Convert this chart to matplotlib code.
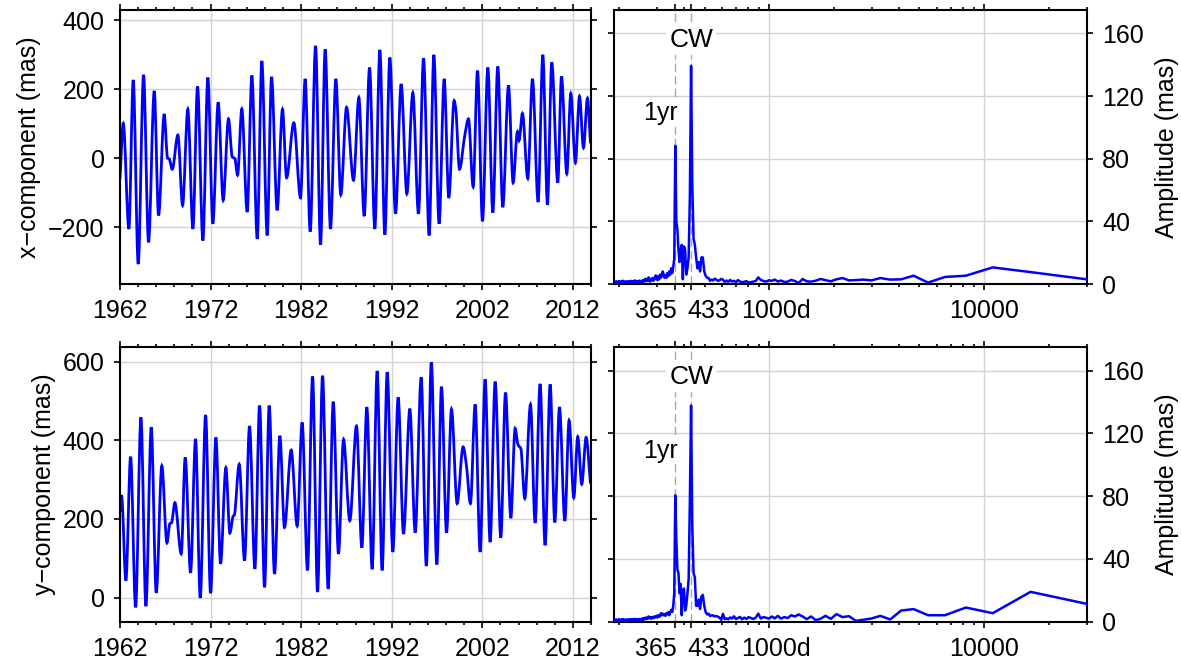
import numpy as np
import matplotlib
matplotlib.use('Agg')
import matplotlib.pyplot as plt
import matplotlib.transforms as mtransforms
from matplotlib.path import Path
from matplotlib.patches import PathPatch
from matplotlib.ticker import MultipleLocator, LogLocator, NullFormatter

plt.rcParams['font.family'] = ['Liberation Sans', 'DejaVu Sans']
plt.rcParams['font.size'] = 18
plt.rcParams['axes.linewidth'] = 1.5

######## polar motion, x component (turning points) ########
x_years = [1962.00, 1962.36, 1962.98, 1963.46, 1964.01, 1964.60, 1965.15, 1965.78, 1966.26, 1966.88,
           1967.25, 1967.43, 1967.77, 1968.39, 1968.91, 1969.49, 1970.05, 1970.56, 1971.15, 1971.70,
           1972.25, 1972.84, 1973.39, 1973.98, 1974.39, 1974.68, 1974.98, 1975.45, 1976.04, 1976.56,
           1977.15, 1977.66, 1978.25, 1978.73, 1979.35, 1979.94, 1980.39, 1981.19, 1981.93, 1982.44,
           1983.00, 1983.59, 1984.14, 1984.65, 1985.24, 1985.83, 1986.38, 1987.01, 1987.78, 1988.37,
           1988.96, 1989.55, 1990.13, 1990.69, 1991.24, 1991.79, 1992.42, 1993.04, 1993.67, 1994.33,
           1994.95, 1995.51, 1996.13, 1996.65, 1997.23, 1997.79, 1998.30, 1998.89, 1999.07, 1999.48,
           2000.07, 2000.47, 2000.99, 2001.47, 2002.02, 2002.61, 2003.16, 2003.71, 2004.26, 2004.89,
           2005.40, 2005.88, 2006.06, 2006.43, 2007.02, 2007.54, 2008.16, 2008.68, 2009.19, 2009.67,
           2010.33, 2010.74, 2011.33, 2011.77, 2012.28, 2012.73, 2013.17, 2013.61, 2013.94]
x_mas = [-59, 101, -205, 227, -307, 242, -244, 195, -166, 128,
         0, -2, -32, 67, -137, 142, -205, 208, -239, 234,
         -190, 162, -122, 114, 4, -1, -49, 143, -156, 240,
         -234, 282, -224, 236, -151, 142, -57, 103, -115, 230,
         -213, 326, -251, 316, -205, 230, -106, 148, -64, 176,
         -168, 263, -205, 314, -222, 292, -161, 215, -103, 190,
         -161, 290, -224, 300, -190, 230, -115, 167, 143, -32,
         67, 114, -83, 254, -183, 263, -158, 266, -142, 211,
         -71, 77, 52, 130, -59, 230, -127, 300, -135, 278,
         -71, 237, -45, 188, -13, 180, 30, 174, 43]

######## polar motion, y component ########
y_years = [1962.00, 1962.17, 1962.65, 1963.17, 1963.72, 1964.31, 1964.86, 1965.45, 1966.00, 1966.62,
           1967.18, 1967.51, 1967.69, 1968.06, 1968.76, 1969.20, 1969.79, 1970.34, 1970.86, 1971.45,
           1972.00, 1972.59, 1973.10, 1973.69, 1974.13, 1974.50, 1974.61, 1975.16, 1975.75, 1976.30,
           1976.89, 1977.41, 1977.96, 1978.47, 1979.06, 1979.65, 1980.16, 1980.90, 1981.56, 1982.11,
           1982.70, 1983.26, 1983.81, 1984.36, 1984.98, 1985.54, 1986.12, 1986.68, 1987.37, 1988.11,
           1988.70, 1989.25, 1989.84, 1990.39, 1990.94, 1991.50, 1992.12, 1992.71, 1993.30, 1994.00,
           1994.59, 1995.25, 1995.82, 1996.37, 1996.98, 1997.49, 1998.05, 1998.60, 1999.22, 1999.88,
           2000.22, 2000.69, 2001.21, 2001.76, 2002.31, 2002.86, 2003.42, 2004.04, 2004.56, 2005.15,
           2005.62, 2005.95, 2006.25, 2006.69, 2007.32, 2007.83, 2008.38, 2008.93, 2009.49, 2010.00,
           2010.52, 2011.11, 2011.58, 2012.10, 2012.54, 2012.98, 2013.46, 2013.94]
y_mas = [218, 260, 43, 358, -25, 458, -22, 433, 12, 335,
         139, 188, 190, 241, 111, 356, 63, 403, -1, 464,
         11, 407, 86, 330, 164, 207, 209, 339, 94, 436,
         73, 488, 26, 488, 60, 411, 178, 375, 182, 445,
         69, 562, 14, 564, 22, 498, 111, 402, 195, 436,
         127, 484, 72, 576, 69, 573, 116, 509, 162, 480,
         165, 560, 80, 598, 84, 536, 165, 479, 239, 383,
         341, 239, 491, 116, 555, 141, 549, 152, 521, 202,
         430, 388, 379, 252, 491, 190, 543, 133, 542, 191,
         484, 195, 450, 254, 409, 288, 407, 290]

######## amplitude spectra, one value per harmonic k = 1, 2, ... ########
n_days = 32872   # record length behind the frequency grid (period = n_days / k)
amp_x = [2.3, 7.6, 10.6, 5.3, 4.5, 0.9, 5.3, 3.0, 2.8, 3.8,
         2.3, 2.8, 2.5, 2.3, 3.8, 3.0, 1.7, 2.5, 3.2, 2.1,
         1.5, 1.7, 3.2, 0.6, 1.9, 2.6, 1.5, 1.3, 2.2, 1.6,
         2.8, 2.0, 2.4, 1.5, 1.9, 2.6, 4.2, 2.0, 1.5, 1.2,
         1.0, 1.8, 1.4, 1.0, 1.6, 2.5, 1.2, 2.0, 1.6, 2.6,
         1.4, 2.2, 1.3, 2.8, 3.2, 2.4, 2.0, 2.8, 3.4, 2.2,
         2.8, 2.0, 3.8, 4.0, 5.2, 8.0, 17.0, 17.0, 8.0, 14.0,
         10.0, 17.0, 25.0, 29.0, 63.0, 139.3, 55.0, 17.0, 10.0, 6.0,
         22.0, 24.0, 3.0, 25.0, 22.0, 14.0, 22.0, 35.0, 40.0, 88.3,
         16.0, 11.0, 7.0, 10.0, 6.0, 8.0, 5.0, 7.0, 4.0, 5.5,
         4.0, 6.0, 8.0, 5.0, 4.0, 6.0, 3.0, 5.0, 2.5, 4.0,
         5.5, 3.0, 4.0, 2.0, 3.8, 2.5, 3.0, 1.5, 3.5, 4.2,
         2.0, 3.0, 1.8, 3.4, 2.2, 1.5, 2.5, 1.2, 2.0, 1.7,
         1.0, 2.2, 1.3, 1.8, 0.9, 2.0, 1.5, 1.1, 2.3, 1.4,
         1.0, 1.8, 1.2, 2.0, 0.8, 1.5, 1.9, 1.0, 1.6, 1.3,
         0.9, 1.7, 1.1, 1.4, 0.7, 1.6, 1.2, 2.1, 1.0, 1.8,
         1.2, 0.8, 1.5, 1.0, 1.9, 1.1, 0.7, 1.4, 1.2, 1.6, 0.9, 1.3, 1.0]
amp_y = [10.1, 18.9, 5.3, 8.9, 4.0, 4.0, 7.9, 7.0, 1.3, 3.6,
         1.9, 1.1, 0.4, 3.4, 2.8, 4.7, 1.7, 3.6, 1.7, 0.9,
         3.2, 1.5, 3.2, 4.5, 3.2, 4.0, 2.2, 2.8, 1.8, 3.6,
         2.0, 3.2, 1.8, 2.4, 2.8, 1.9, 5.0, 2.5, 1.6, 2.2,
         2.8, 1.6, 2.5, 1.4, 2.9, 2.2, 1.6, 3.3, 1.9, 2.6,
         1.4, 2.0, 1.5, 4.9, 1.0, 2.5, 3.0, 3.5, 3.2, 3.8,
         4.0, 3.5, 5.0, 4.5, 6.0, 10.0, 17.0, 16.0, 8.0, 14.0,
         10.0, 10.0, 28.0, 31.0, 60.0, 137.7, 76.0, 27.0, 18.0, 10.0,
         7.0, 21.0, 20.0, 4.0, 24.0, 18.0, 31.0, 33.0, 52.0, 80.4,
         18.0, 10.0, 6.0, 7.4, 6.0, 4.0, 6.0, 4.5, 5.3, 3.6,
         4.7, 4.0, 5.0, 4.0, 5.3, 3.4, 3.0, 4.0, 2.5, 3.6,
         2.8, 3.2, 2.2, 3.0, 2.8, 1.8, 2.6, 2.0, 3.0, 3.2,
         1.7, 2.5, 1.5, 2.4, 2.3, 1.2, 2.0, 1.0, 1.8, 1.5,
         0.8, 1.6, 1.0, 1.4, 0.6, 1.5, 1.1, 0.8, 1.7, 1.0,
         0.7, 1.3, 0.9, 1.5, 0.6, 1.2, 1.4, 0.7, 1.2, 1.0,
         0.6, 1.3, 0.8, 1.1, 0.5, 1.2, 0.9, 1.5, 0.7, 1.3,
         0.9, 0.6, 1.1, 0.7, 1.4, 0.8, 0.5, 1.0, 0.9, 1.2, 0.6, 1.0, 0.8]

year_ticks = [1962, 1972, 1982, 1992, 2002, 2012]
period_ticks = [365, 433, 1000, 10000]
period_labels = ['365', '433', '1000d', '10000']
period_ha = ['right', 'left', 'center', 'center']
period_shift = [2, -4, 7, 0]   # px nudges of the period labels
amp_ticks = [0, 40, 80, 120, 160]

grid_col = '#d3d3d3'
line_col = '#0000ff'


def smooth_path(t, v):
    # monotone cubic through the turning points, drawn as bezier segments
    t = np.asarray(t, float)
    v = np.asarray(v, float)
    h = np.diff(t)
    d = np.diff(v) / h
    m = np.zeros_like(v)
    for i in range(1, len(v) - 1):
        if d[i - 1] * d[i] > 0:
            w1 = 2 * h[i] + h[i - 1]
            w2 = h[i] + 2 * h[i - 1]
            m[i] = (w1 + w2) / (w1 / d[i - 1] + w2 / d[i])
    m[0] = d[0]
    m[-1] = d[-1]
    verts = [(t[0], v[0])]
    codes = [Path.MOVETO]
    for i in range(len(h)):
        verts += [(t[i] + h[i] / 3, v[i] + m[i] * h[i] / 3),
                  (t[i + 1] - h[i] / 3, v[i + 1] - m[i + 1] * h[i] / 3),
                  (t[i + 1], v[i + 1])]
        codes += [Path.CURVE4] * 3
    return Path(verts, codes)


def style(ax):
    ax.set_axisbelow(True)
    ax.tick_params(which='both', direction='out', top=True, right=True, width=1.2)
    ax.tick_params(which='major', length=4, pad=7)
    ax.tick_params(which='minor', length=2.5)


fig = plt.figure(figsize=(11.81, 6.68), dpi=100)
W, H = 1181., 668.
rows = [(10, 284), (347, 621.5)]

######## time series ########
ts = [(x_years, x_mas, 'x\u2212component (mas)', (-365, 430), [-200, 0, 200, 400]),
      (y_years, y_mas, 'y\u2212component (mas)', (-61, 637), [0, 200, 400, 600])]
for (top, bot), (yr, val, lab, ylim, yt) in zip(rows, ts):
    ax = fig.add_axes([120 / W, 1 - bot / H, 471 / W, (bot - top) / H])
    style(ax)
    ax.add_patch(PathPatch(smooth_path(yr, val), facecolor='none', edgecolor=line_col, lw=2.0))
    ax.set_xlim(1962, 2014)
    ax.set_ylim(*ylim)
    ax.set_xticks(year_ticks)
    ax.xaxis.set_minor_locator(MultipleLocator(2))
    ax.set_yticks(yt)
    ax.grid(True, which='major', color=grid_col, lw=1)
    ax.set_ylabel(lab, labelpad=5)

######## spectra ########
sp = [amp_x, amp_y]
for (top, bot), amp in zip(rows, sp):
    ax = fig.add_axes([614.3 / W, 1 - bot / H, 472.4 / W, (bot - top) / H])
    style(ax)
    k = np.arange(1, len(amp) + 1)
    ax.plot(n_days / k, amp, color=line_col, lw=1.8, zorder=3)
    ax.set_xscale('log')
    ax.set_xlim(190, 30000)
    ax.set_ylim(0, 175)
    ax.set_xticks(period_ticks)
    ax.set_xticklabels(period_labels)
    ax.xaxis.set_minor_locator(LogLocator(base=10, subs=np.arange(2, 10)))
    ax.xaxis.set_minor_formatter(NullFormatter())
    ax.set_yticks(amp_ticks)
    ax.yaxis.tick_right()
    ax.tick_params(which='both', left=True, right=True, labelleft=False, labelright=True)
    ax.yaxis.set_label_position('right')
    ax.set_ylabel('Amplitude (mas)', labelpad=8)
    for lbl, ha, dx in zip(ax.get_xticklabels(), period_ha, period_shift):
        lbl.set_ha(ha)
        lbl.set_transform(lbl.get_transform() +
                          mtransforms.ScaledTranslation(dx / 100., 0, fig.dpi_scale_trans))
    ax.grid(True, axis='y', color=grid_col, lw=1)
    for p in [1000, 10000]:
        ax.axvline(p, color=grid_col, lw=1, zorder=0)
    for p in [365, 433]:
        ax.axvline(p, color='#a8a8a8', lw=1, ls=(0, (6, 3)), zorder=1)
    ax.text(433, 156, 'CW', ha='center', va='center', fontsize=19, zorder=4,
            bbox=dict(fc='white', ec='none', pad=2))
    ax.text(377, 109, '1yr', ha='right', va='center', fontsize=18, zorder=4,
            bbox=dict(fc='white', ec='none', pad=1))

fig.savefig('out.png', dpi=100)
